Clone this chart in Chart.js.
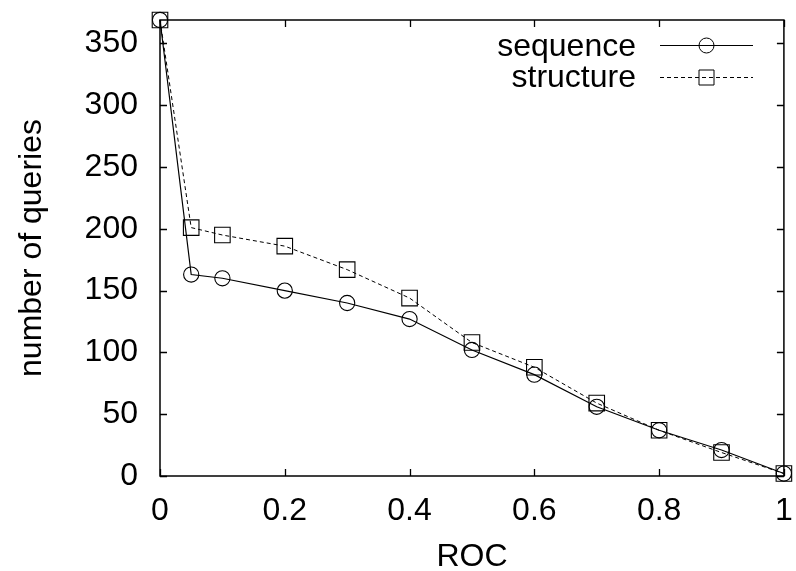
<!DOCTYPE html>
<html>
<head>
<meta charset="utf-8">
<script src="https://cdn.jsdelivr.net/npm/chart.js@4.4.0/dist/chart.umd.min.js"></script>
<style>
html,body{margin:0;padding:0;background:#fff;}
#wrap{width:796px;height:571px;}
</style>
</head>
<body>
<div id="wrap"><canvas id="c" width="796" height="571"></canvas></div>
<script>
const rocValues = [0, 0.05, 0.1, 0.2, 0.3, 0.4, 0.5, 0.6, 0.7, 0.8, 0.9, 1.0];
const sequenceValues = [369, 163, 160, 150, 140, 127, 102, 82, 56, 37, 21, 2];
const structureValues = [369, 201, 195, 186, 167, 144, 108, 88, 59, 37, 19, 2];
const seriesNames = ['sequence', 'structure'];
const xTickValues = [0, 0.2, 0.4, 0.6, 0.8, 1];
const xTickLabels = ['0', '0.2', '0.4', '0.6', '0.8', '1'];
const yTickValues = [0, 50, 100, 150, 200, 250, 300, 350];
const yTickLabels = ['0', '50', '100', '150', '200', '250', '300', '350'];
const xTitle = 'ROC';
const yTitle = 'number of queries';

const FONT = 'Liberation Sans, Arial, sans-serif';
const FS = 32;

function toPoints(xs, ys) { return xs.map((x, i) => ({x: x, y: ys[i]})); }
function zeroPad(s) { s.paddingTop = 0; s.paddingBottom = 0; s.paddingLeft = 0; s.paddingRight = 0; }

const boxPlugin = {
  id: 'box',
  beforeDatasetsDraw(chart) {
    const ctx = chart.ctx, a = chart.chartArea;
    const xs = chart.scales.x, ys = chart.scales.y;
    const L = 7;
    ctx.save();
    ctx.strokeStyle = '#000';
    ctx.lineWidth = 1.3;
    ctx.beginPath();
    xTickValues.forEach(v => {
      const px = Math.round(xs.getPixelForValue(v)) + 0.5;
      ctx.moveTo(px, a.bottom); ctx.lineTo(px, a.bottom - L);
      ctx.moveTo(px, a.top); ctx.lineTo(px, a.top + L);
    });
    yTickValues.forEach(v => {
      const py = Math.round(ys.getPixelForValue(v)) + 0.5;
      ctx.moveTo(a.left, py); ctx.lineTo(a.left + L, py);
      ctx.moveTo(a.right, py); ctx.lineTo(a.right - L, py);
    });
    ctx.stroke();
    ctx.lineWidth = 1.5;
    ctx.strokeRect(a.left, a.top, a.right - a.left, a.bottom - a.top);
    ctx.restore();
  }
};

const legendPlugin = {
  id: 'gpLegend',
  afterDraw(chart) {
    const ctx = chart.ctx;
    const rows = [
      {text: seriesNames[0], base: 56, ly: 45, dash: [], style: 'circle'},
      {text: seriesNames[1], base: 87, ly: 77, dash: [4, 3], style: 'rect'}
    ];
    ctx.save();
    ctx.font = FS + 'px ' + FONT;
    ctx.fillStyle = '#000';
    ctx.textAlign = 'right';
    ctx.textBaseline = 'alphabetic';
    rows.forEach(r => {
      ctx.fillText(r.text, 636, r.base);
      ctx.strokeStyle = '#000';
      ctx.lineWidth = 1;
      ctx.setLineDash(r.dash);
      ctx.beginPath();
      ctx.moveTo(660, r.ly + 0.5); ctx.lineTo(753, r.ly + 0.5);
      ctx.stroke();
      ctx.setLineDash([]);
      ctx.beginPath();
      if (r.style === 'circle') {
        ctx.arc(706.5, r.ly + 0.5, 7.5, 0, Math.PI * 2);
      } else {
        ctx.rect(699, r.ly - 7, 15, 15);
      }
      ctx.stroke();
    });
    ctx.restore();
  }
};

new Chart(document.getElementById('c'), {
  type: 'line',
  data: {
    datasets: [
      {
        label: seriesNames[0],
        data: toPoints(rocValues, sequenceValues),
        borderColor: '#000',
        borderWidth: 1.2,
        pointStyle: 'circle',
        pointRadius: 7.6,
        pointBorderWidth: 1.1,
        pointBorderColor: '#000',
        pointBackgroundColor: 'rgba(0,0,0,0)',
        tension: 0,
        clip: false
      },
      {
        label: seriesNames[1],
        data: toPoints(rocValues, structureValues),
        borderColor: '#000',
        borderWidth: 1,
        borderDash: [4, 3],
        pointStyle: 'rect',
        pointRadius: 11,
        pointBorderWidth: 1.1,
        pointBorderColor: '#000',
        pointBackgroundColor: 'rgba(0,0,0,0)',
        tension: 0,
        clip: false
      }
    ]
  },
  options: {
    responsive: false,
    animation: false,
    devicePixelRatio: 1,
    layout: {padding: {left: 0, top: 20, right: 11, bottom: 0}},
    plugins: {legend: {display: false}, tooltip: {enabled: false}},
    scales: {
      x: {
        type: 'linear',
        min: 0, max: 1,
        grid: {display: false, drawTicks: false},
        border: {display: false},
        afterBuildTicks: s => { s.ticks = xTickValues.map(v => ({value: v})); },
        afterFit: s => { s.height = 95; zeroPad(s); },
        ticks: {
          color: '#000',
          font: {family: FONT, size: FS},
          padding: 16,
          maxRotation: 0,
          autoSkip: false,
          callback: (v) => { const i = xTickValues.indexOf(v); return i >= 0 ? xTickLabels[i] : ''; }
        },
        title: {
          display: true, text: xTitle, color: '#000',
          font: {family: FONT, size: FS, lineHeight: 1},
          padding: {top: 0, bottom: -2}
        }
      },
      y: {
        type: 'linear',
        min: 0, max: 369,
        grid: {display: false, drawTicks: false},
        border: {display: false},
        afterBuildTicks: s => { s.ticks = yTickValues.map(v => ({value: v})); },
        afterFit: s => { s.width = 160; zeroPad(s); },
        ticks: {
          color: '#000',
          font: {family: FONT, size: FS},
          padding: 22,
          autoSkip: false,
          callback: (v) => { const i = yTickValues.indexOf(v); return i >= 0 ? yTickLabels[i] : ''; }
        },
        title: {
          display: true, text: yTitle, color: '#000',
          font: {family: FONT, size: FS, lineHeight: 1},
          padding: {top: 16, bottom: 0}
        }
      }
    }
  },
  plugins: [boxPlugin, legendPlugin]
});
</script>
</body>
</html>
